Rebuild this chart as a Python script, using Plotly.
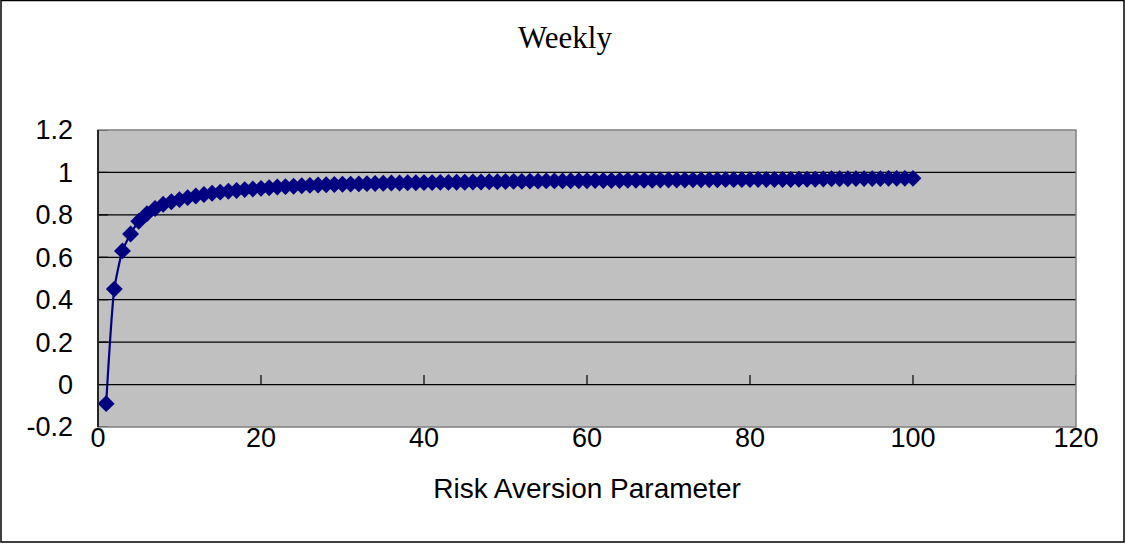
import plotly.graph_objects as go

risk_aversion = list(range(1, 101))
weekly_values = [
    -0.09, 0.45, 0.63, 0.71, 0.77, 0.805, 0.83, 0.85, 0.862, 0.872,
    0.881, 0.889, 0.896, 0.902, 0.907, 0.911, 0.915, 0.919, 0.922, 0.925,
    0.928, 0.931, 0.933, 0.935, 0.937, 0.939, 0.941, 0.942, 0.943, 0.944,
    0.945, 0.946, 0.947, 0.948, 0.949, 0.950, 0.950, 0.951, 0.951, 0.952,
    0.952, 0.953, 0.953, 0.954, 0.954, 0.955, 0.955, 0.956, 0.956, 0.957,
    0.958, 0.958, 0.959, 0.959, 0.960, 0.960, 0.960, 0.961, 0.961, 0.961,
    0.962, 0.962, 0.962, 0.962, 0.963, 0.963, 0.963, 0.963, 0.964, 0.964,
    0.964, 0.964, 0.965, 0.965, 0.965, 0.965, 0.966, 0.966, 0.966, 0.966,
    0.967, 0.967, 0.967, 0.967, 0.967, 0.968, 0.968, 0.968, 0.969, 0.970,
    0.970, 0.970, 0.971, 0.971, 0.971, 0.971, 0.972, 0.972, 0.972, 0.972,
]
x_ticks = [0, 20, 40, 60, 80, 100, 120]
y_ticks = [-0.2, 0, 0.2, 0.4, 0.6, 0.8, 1, 1.2]
y_tick_labels = ["-0.2", "0", "0.2", "0.4", "0.6", "0.8", "1", "1.2"]

W, H = 1126, 544
L, R, T, B = 98, 50, 130, 117
pw, ph = W - L - R, H - T - B

fig = go.Figure()
fig.add_trace(go.Scatter(
    x=risk_aversion, y=weekly_values, mode="lines+markers",
    line=dict(color="#000080", width=2.2, shape="spline", smoothing=0.6),
    marker=dict(symbol="diamond", size=13, color="#000080"),
    showlegend=False,
))

shapes = []
# horizontal gridlines (black)
for v in y_ticks[1:-1]:
    shapes.append(dict(type="line", xref="paper", yref="y", x0=0, x1=1, y0=v, y1=v,
                       line=dict(color="black", width=1.3), layer="below"))
# x tick marks on zero line, pointing up
for v in x_ticks[1:]:
    shapes.append(dict(type="line", xref="x", yref="y", x0=v, x1=v, y0=0, y1=0.045,
                       line=dict(color="black", width=1.2)))
# y tick marks inside on left axis
for v in y_ticks:
    shapes.append(dict(type="line", xref="paper", yref="y", x0=0, x1=10 / pw, y0=v, y1=v,
                       line=dict(color="black", width=1.2)))
# plot area border (gray)
shapes.append(dict(type="rect", xref="paper", yref="paper", x0=0, x1=1, y0=0, y1=1,
                   line=dict(color="#808080", width=1.5)))
# left axis line (black)
shapes.append(dict(type="line", xref="paper", yref="paper", x0=0, x1=0, y0=0, y1=1,
                   line=dict(color="black", width=1.5)))
# outer chart border
shapes.append(dict(type="rect", xref="paper", yref="paper",
                   x0=(1 - L) / pw, x1=(W - 2 - L) / pw,
                   y0=(T + ph - (H - 2)) / ph, y1=(T + ph - 0.5) / ph,
                   line=dict(color="black", width=1.5)))

fig.update_layout(
    width=W, height=H,
    margin=dict(l=L, r=R, t=T, b=B, pad=0),
    paper_bgcolor="white", plot_bgcolor="#C0C0C0",
    title=dict(text="Weekly", font=dict(family="Liberation Serif", size=31, color="black"),
               x=(565 - L) / pw, xref="paper", xanchor="center",
               y=1 - 37 / H, yanchor="middle"),
    xaxis=dict(range=[0, 120], tickvals=x_ticks, ticktext=[str(v) for v in x_ticks],
               showgrid=False, zeroline=False, showline=False, ticks="",
               tickfont=dict(family="Liberation Sans", size=27, color="black"),
               ticklabelstandoff=-8,
               title=dict(text="Risk Aversion Parameter",
                          font=dict(family="Liberation Sans", size=28, color="black"),
                          standoff=26)),
    yaxis=dict(range=[-0.2, 1.2], tickvals=y_ticks, ticktext=y_tick_labels,
               showgrid=False, zeroline=False, showline=False, ticks="",
               ticklabelstandoff=24,
               tickfont=dict(family="Liberation Sans", size=27, color="black")),
    shapes=shapes,
)

fig.write_html("out.html", config={"displayModeBar": False, "staticPlot": True})
with open("out.html", "r", encoding="utf-8") as f:
    html = f.read()
html = html.replace("<body>", '<body style="margin:0;padding:0;">', 1)
html = html.replace("<head>", "<head><style>html,body{margin:0;padding:0;overflow:hidden;}</style>", 1)
with open("out.html", "w", encoding="utf-8") as f:
    f.write(html)
